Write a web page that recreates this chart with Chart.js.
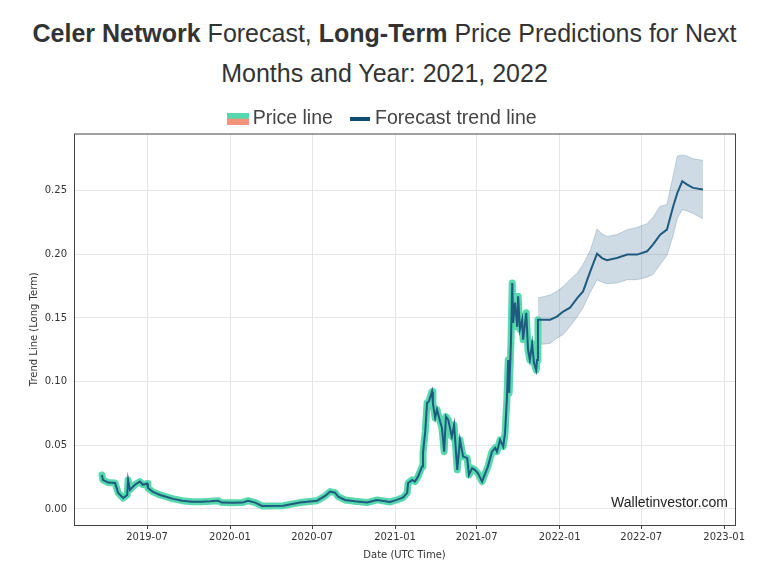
<!DOCTYPE html>
<html>
<head>
<meta charset="utf-8">
<script src="https://cdn.jsdelivr.net/npm/chart.js@4"></script>
<style>
    body { margin: 0; background: #fff; }
    #wrap { position: relative; width: 763px; height: 561px; }
    #title {
        position: absolute; top: 13px; left: 3px; width: 763px;
        text-align: center; font: 25px 'Liberation Sans', Arial, sans-serif;
        line-height: 40px; color: #333;
    }
    #chart { position: absolute; left: 0; top: 0; }
</style>
</head>
<body>
<div id="wrap">
    <div id="title"><b>Celer Network</b> Forecast, <b>Long-Term</b> Price Predictions for Next<br>Months and Year: 2021, 2022</div>
    <canvas id="chart" width="763" height="561"></canvas>
</div>
<script>
const priceDates = [
    '2019-03-23', '2019-03-25', '2019-04-06', '2019-04-21', '2019-04-28', '2019-05-09', '2019-05-18', '2019-05-20',
    '2019-05-24', '2019-06-04', '2019-06-15', '2019-06-22', '2019-07-01', '2019-07-03', '2019-07-14', '2019-07-30',
    '2019-08-14', '2019-08-28', '2019-09-17', '2019-10-09', '2019-10-31', '2019-11-18', '2019-12-05', '2019-12-14',
    '2020-01-06', '2020-01-28', '2020-02-10', '2020-02-26', '2020-03-12', '2020-04-28', '2020-06-04', '2020-07-12',
    '2020-07-30', '2020-08-10', '2020-08-21', '2020-08-28', '2020-09-12', '2020-10-04', '2020-10-31', '2020-11-22',
    '2020-12-21', '2021-01-05', '2021-01-19', '2021-01-28', '2021-01-30', '2021-02-08', '2021-02-14', '2021-02-21',
    '2021-03-02', '2021-03-04', '2021-03-09', '2021-03-13', '2021-03-17', '2021-03-24', '2021-03-26', '2021-03-31',
    '2021-04-04', '2021-04-11', '2021-04-15', '2021-04-20', '2021-04-24', '2021-04-29', '2021-05-07', '2021-05-12',
    '2021-05-19', '2021-05-25', '2021-06-01', '2021-06-10', '2021-06-14', '2021-06-21', '2021-06-27', '2021-07-04',
    '2021-07-13', '2021-07-20', '2021-07-26', '2021-08-04', '2021-08-11', '2021-08-15', '2021-08-22', '2021-08-29',
    '2021-09-02', '2021-09-06', '2021-09-09', '2021-09-11', '2021-09-15', '2021-09-18', '2021-09-20', '2021-09-24',
    '2021-09-29', '2021-10-01', '2021-10-05', '2021-10-10', '2021-10-12', '2021-10-19', '2021-10-23', '2021-10-27',
    '2021-11-01', '2021-11-05', '2021-11-10', '2021-11-12', '2021-11-14'
];
const priceValues = [
    0.0267, 0.0228, 0.0207, 0.0204, 0.0126, 0.0086, 0.011, 0.0228,
    0.015, 0.019, 0.0215, 0.019, 0.020, 0.0165, 0.0134, 0.011,
    0.0094, 0.0079, 0.0065, 0.0057, 0.0057, 0.006, 0.0065, 0.005,
    0.0048, 0.005, 0.0065, 0.005, 0.0024, 0.0026, 0.005, 0.0065,
    0.0102, 0.0136, 0.0128, 0.0097, 0.0071, 0.006, 0.005, 0.0071,
    0.0055, 0.0071, 0.0090, 0.0126, 0.0204, 0.0228, 0.0215, 0.0254,
    0.0333, 0.044, 0.0608, 0.0833, 0.0844, 0.0922, 0.083, 0.0715,
    0.078, 0.0686, 0.0637, 0.045, 0.0726, 0.070, 0.0568, 0.066,
    0.0307, 0.0542, 0.0411, 0.040, 0.0267, 0.032, 0.0307, 0.028,
    0.0215, 0.028, 0.0333, 0.045, 0.048, 0.045, 0.0542, 0.049,
    0.0595, 0.0857, 0.117, 0.091, 0.130, 0.1774, 0.146, 0.162,
    0.143, 0.167, 0.141, 0.1486, 0.133, 0.154, 0.125, 0.117,
    0.130, 0.115, 0.109, 0.117, 0.1486
];

const forecastDates = [
    '2021-11-14', '2021-12-11', '2021-12-26', '2022-01-09', '2022-01-24', '2022-02-09', '2022-02-22', '2022-03-10',
    '2022-03-25', '2022-04-05', '2022-04-16', '2022-05-08', '2022-05-31', '2022-06-22', '2022-07-14', '2022-07-27',
    '2022-08-12', '2022-08-27', '2022-09-10', '2022-09-19', '2022-09-30', '2022-10-11', '2022-10-24', '2022-11-15'
];
const forecastMean = [
    0.1486, 0.1486, 0.151, 0.155, 0.158, 0.1656, 0.1708, 0.1866,
    0.2005, 0.197, 0.1953, 0.197, 0.1997, 0.1997, 0.2023, 0.2075,
    0.2154, 0.2193, 0.2377, 0.248, 0.2573, 0.2547, 0.2521, 0.2508
];
const forecastUpper = [
    0.1656, 0.168, 0.171, 0.1748, 0.180, 0.1853, 0.192, 0.203,
    0.2199, 0.216, 0.214, 0.2154, 0.2193, 0.221, 0.224, 0.229,
    0.2377, 0.239, 0.262, 0.277, 0.278, 0.277, 0.2749, 0.2738
];
const forecastLower = [
    0.129, 0.130, 0.134, 0.137, 0.1433, 0.151, 0.158, 0.170,
    0.180, 0.178, 0.1769, 0.1774, 0.180, 0.180, 0.182, 0.184,
    0.192, 0.199, 0.215, 0.228, 0.235, 0.234, 0.232, 0.2278
];

const xTickLabels = ['2019-07', '2020-01', '2020-07', '2021-01', '2021-07', '2022-01', '2022-07', '2023-01'];
const yTicks = [0, 0.05, 0.10, 0.15, 0.20, 0.25];

const toDay = s => Date.UTC(+s.slice(0, 4), +s.slice(5, 7) - 1, +(s.slice(8, 10) || 1)) / 864e5;
const pts = (dates, vals) => dates.map((d, i) => ({ x: toDay(d), y: vals[i] }));

const GREEN = '#58d8ae';
const SALMON = '#f4937c';
const NAVY = '#1f5a7f';

// legend swatches
const priceSwatch = document.createElement('canvas');
priceSwatch.width = 22; priceSwatch.height = 12;
let sctx = priceSwatch.getContext('2d');
sctx.fillStyle = GREEN; sctx.fillRect(0, 0, 22, 6);
sctx.fillStyle = SALMON; sctx.fillRect(0, 6, 22, 6);
const trendSwatch = document.createElement('canvas');
trendSwatch.width = 20; trendSwatch.height = 4;
sctx = trendSwatch.getContext('2d');
sctx.fillStyle = '#0f4e72'; sctx.fillRect(0, 0, 20, 4);

const framePlugin = {
    id: 'frame',
    afterInit(chart) {
        // legend keeps wide item spacing but takes less room below it
        const legend = chart.legend;
        if (!legend) return;
        const fit = legend.fit;
        legend.fit = function () {
            fit.call(this);
            this.height -= 4;
        };
        const draw = legend.draw;
        legend.draw = function () {
            const ctx = this.ctx;
            ctx.save();
            ctx.translate(3, 1);
            draw.call(this);
            ctx.restore();
        };
    },
    afterDraw(chart) {
        const { ctx, chartArea: a } = chart;
        ctx.save();
        ctx.strokeStyle = '#444';
        ctx.lineWidth = 1;
        ctx.strokeRect(a.left + 0.5, a.top + 0.5, a.right - a.left, a.bottom - a.top);
        ctx.fillStyle = '#222';
        ctx.font = '14px "Liberation Sans", Arial, sans-serif';
        ctx.textAlign = 'right';
        ctx.textBaseline = 'middle';
        ctx.fillText('Walletinvestor.com', a.right - 7, a.bottom - 22);
        ctx.restore();
    }
};

// datasets drawn last-to-first, so the trend line comes first to sit on top
new Chart(document.getElementById('chart'), {
    type: 'line',
    data: {
        datasets: [
            {
                label: 'Forecast trend line',
                data: pts(priceDates.concat(forecastDates.slice(1)), priceValues.concat(forecastMean.slice(1))),
                borderColor: NAVY,
                borderWidth: 2,
                pointRadius: 0,
                fill: false
            },
            {
                label: 'Price line',
                data: pts(priceDates, priceValues),
                borderColor: GREEN,
                borderWidth: 7,
                borderJoinStyle: 'round',
                borderCapStyle: 'round',
                pointRadius: 0,
                fill: false
            },
            {
                label: 'lower',
                data: pts(forecastDates, forecastLower),
                borderColor: 'rgba(52, 104, 143, 0.25)',
                borderWidth: 1,
                pointRadius: 0,
                fill: false
            },
            {
                label: 'upper',
                data: pts(forecastDates, forecastUpper),
                borderColor: 'rgba(52, 104, 143, 0.25)',
                borderWidth: 1,
                backgroundColor: 'rgba(52, 104, 143, 0.24)',
                pointRadius: 0,
                fill: '-1'
            }
        ]
    },
    options: {
        responsive: false,
        animation: false,
        layout: { padding: { top: 86, left: 28, right: 28, bottom: 0 } },
        plugins: {
            tooltip: { enabled: false },
            legend: {
                position: 'top',
                labels: {
                    usePointStyle: true,
                    pointStyleWidth: 10.5,
                    padding: 22,
                    color: '#444',
                    font: { size: 19.5, family: '"Liberation Sans", Arial, sans-serif' },
                    generateLabels: () => [
                        { text: 'Price line', pointStyle: priceSwatch, fontColor: '#444', datasetIndex: 1 },
                        { text: 'Forecast trend line', pointStyle: trendSwatch, fontColor: '#444', datasetIndex: 0 }
                    ]
                }
            }
        },
        scales: {
            x: {
                type: 'linear',
                min: toDay('2019-01-20'),
                max: toDay('2023-01-25'),
                afterBuildTicks: s => { s.ticks = xTickLabels.map(t => ({ value: toDay(t + '-01') })); },
                afterFit: s => { s.height = 36; },
                grid: { color: '#e6e6e6', tickColor: '#444', tickLength: 4 },
                border: { display: false },
                ticks: {
                    color: '#333',
                    padding: 2,
                    maxRotation: 0,
                    font: { size: 10, family: '"DejaVu Sans", sans-serif' },
                    callback: (v, i) => xTickLabels[i]
                },
                title: {
                    display: true,
                    text: 'Date (UTC Time)',
                    color: '#333',
                    padding: { top: 0, bottom: 0 },
                    font: { size: 10, family: '"DejaVu Sans", sans-serif' }
                }
            },
            y: {
                min: -0.0126,
                max: 0.2948,
                afterBuildTicks: s => { s.ticks = yTicks.map(v => ({ value: v })); },
                afterFit: s => { s.width = 46; },
                grid: { color: '#e6e6e6', drawTicks: false },
                border: { display: false },
                ticks: {
                    color: '#333',
                    padding: 7,
                    font: { size: 10, family: '"DejaVu Sans", sans-serif' },
                    callback: v => v.toFixed(2)
                },
                title: {
                    display: true,
                    text: 'Trend Line (Long Term)',
                    color: '#333',
                    padding: { top: 0, bottom: 2 },
                    font: { size: 10, family: '"DejaVu Sans", sans-serif' }
                }
            }
        }
    },
    plugins: [framePlugin]
});
</script>
</body>
</html>
